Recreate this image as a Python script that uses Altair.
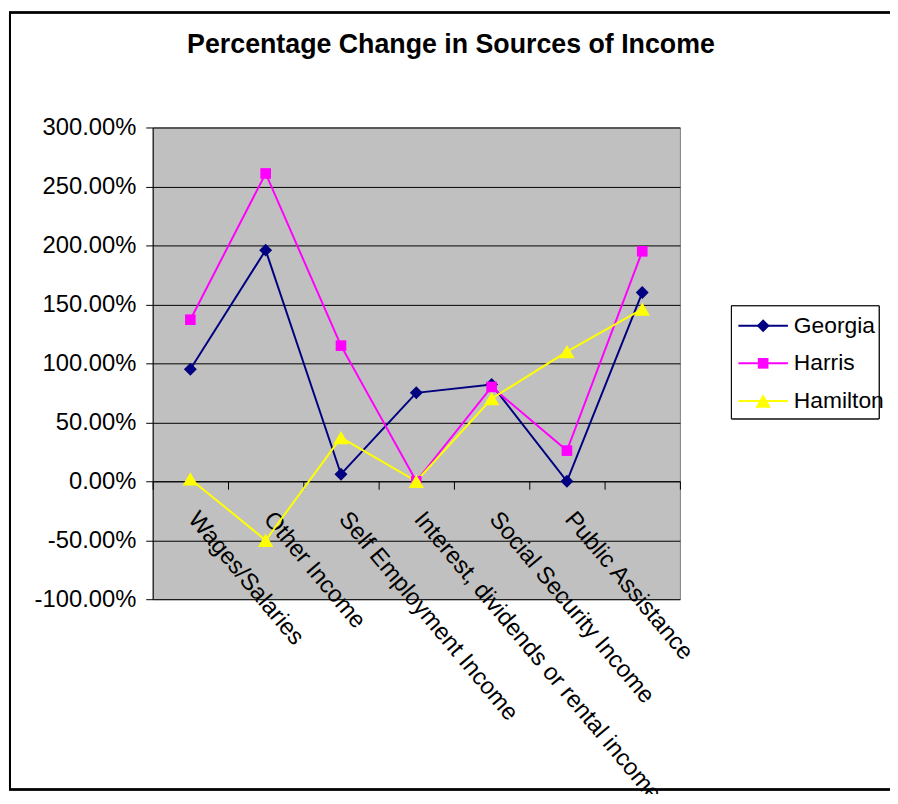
import altair as alt
import pandas as pd

categories = [
    "Wages/Salaries",
    "Other Income",
    "Self Employment Income",
    "Interest, dividends or rental income",
    "Social Security Income",
    "Public Assistance",
    "",
]
series = ["Georgia", "Harris", "Hamilton"]
georgia = [0.95, 1.96, 0.06, 0.75, 0.82, 0.00, 1.60]
harris = [1.37, 2.61, 1.15, 0.00, 0.80, 0.26, 1.95]
hamilton = [0.02, -0.50, 0.37, 0.00, 0.70, 1.10, 1.46]
colors = ["#000080", "#FF00FF", "#FFFF00"]
shapes = ["diamond", "square", "triangle-up"]
marker_sizes = [170, 115, 240]
y_ticks = [-1.0, -0.5, 0.0, 0.5, 1.0, 1.5, 2.0, 2.5, 3.0]

rows = []
for i, (name, vals) in enumerate(zip(series, [georgia, harris, hamilton])):
    for c, v in zip(categories, vals):
        rows.append({"category": c, "series": name, "value": v, "order": i,
                     "msize": marker_sizes[i]})
df = pd.DataFrame(rows)
legend_df = pd.DataFrame({"series": series, "msize": marker_sizes})

FONT = "Liberation Sans"
W, H = 532, 476

color = alt.Color("series:N", scale=alt.Scale(domain=series, range=colors), legend=None)
shape = alt.Shape("series:N", scale=alt.Scale(domain=series, range=shapes), legend=None)
size = alt.Size("msize:Q", scale=None, legend=None)

x_enc = alt.X(
    "category:N",
    sort=categories,
    scale=alt.Scale(type="band", paddingInner=0, paddingOuter=0),
    title=None,
    axis=alt.Axis(
        offset=-119,
        domainColor="black",
        domainWidth=1,
        tickColor="black",
        tickSize=8,
        tickBand="extent",
        labelAngle=50,
        labelAlign="left",
        labelBaseline="top",
        labelPadding=18,
        labelOffset=11,
        labelFont=FONT,
        labelFontSize=24,
        labelColor="black",
        labelLimit=0,
        labelOverlap=False,
        grid=False,
    ),
)
y_enc = alt.Y(
    "value:Q",
    scale=alt.Scale(domain=[-1.0, 3.0], nice=False, zero=False),
    title=None,
    axis=alt.Axis(
        values=y_ticks,
        labelExpr="replace(format(datum.value, '.2%'), '\u2212', '-')",
        domainColor="black",
        tickColor="black",
        tickSize=7,
        labelPadding=10,
        labelFont=FONT,
        labelFontSize=24,
        labelColor="black",
        grid=True,
        gridColor="black",
        gridWidth=1,
        gridOpacity=1,
    ),
)

base = alt.Chart(df)
lines = base.mark_line(strokeWidth=2).encode(
    x=x_enc, y=y_enc, color=color, detail="series:N", order="order:Q"
)
points = base.mark_point(filled=True, opacity=1).encode(
    x=x_enc, y=y_enc, color=color, shape=shape, size=size
)

# frame around the whole chart
frame = alt.Chart(legend_df).mark_rect(
    fill="white", fillOpacity=0, stroke="black", strokeWidth=2
).encode(
    x=alt.value(-144), x2=alt.value(760), y=alt.value(-116), y2=alt.value(668)
)

# manual legend (Excel-style line + marker)
ly = alt.Y("series:N", scale=alt.Scale(type="point", domain=series, range=[200, 276], padding=0), axis=None)
leg_box = alt.Chart(legend_df).mark_rect(fill="white", stroke="black", strokeWidth=1).encode(
    x=alt.value(584), x2=alt.value(733), y=alt.value(180), y2=alt.value(294)
)
leg_lines = alt.Chart(legend_df).mark_rule(strokeWidth=2).encode(
    x=alt.value(591), x2=alt.value(641), y=ly, color=color
)
leg_pts = alt.Chart(legend_df).mark_point(filled=True, opacity=1).encode(
    x=alt.value(616), y=ly, color=color, shape=shape, size=size
)
leg_text = alt.Chart(legend_df).mark_text(
    align="left", baseline="middle", font=FONT, fontSize=23, color="black"
).encode(x=alt.value(647), y=ly, text="series:N")

main = alt.layer(lines, points)
legend = alt.layer(leg_box, leg_lines, leg_pts, leg_text)

chart = (
    alt.layer(frame, main, legend)
    .resolve_scale(y="independent")
    .properties(
        width=W,
        height=H,
        background="white",
        autosize=alt.AutoSizeParams(type="none"),
        padding={"left": 146, "top": 117, "right": 212, "bottom": 193},
        title=alt.TitleParams(
            "Percentage Change in Sources of Income",
            font=FONT,
            fontSize=27,
            fontWeight="bold",
            color="black",
            anchor="middle",
            dx=35,
            offset=-69,
            baseline="alphabetic",
        ),
    )
    .configure_view(fill="#C0C0C0", stroke="#808080", strokeWidth=1)
)

chart.save("out.html", embed_options={"renderer": "svg", "actions": False})
